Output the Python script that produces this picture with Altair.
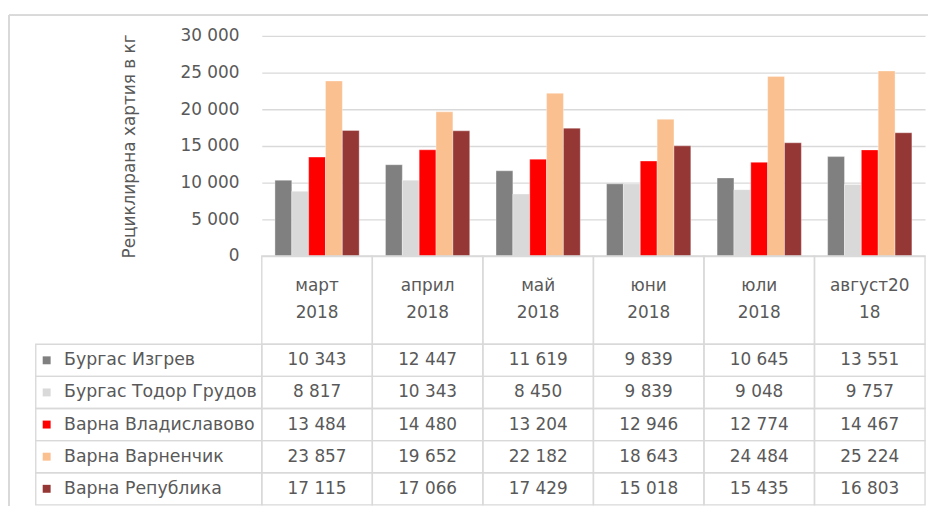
import altair as alt
import pandas as pd

months = ["март\n2018", "април\n2018", "май\n2018", "юни\n2018", "юли\n2018", "август20\n18"]
series = ["Бургас Изгрев", "Бургас Тодор Грудов", "Варна Владиславово", "Варна Варненчик", "Варна Република"]
burgas_izgrev = [10343, 12447, 11619, 9839, 10645, 13551]
burgas_todor_grudov = [8817, 10343, 8450, 9839, 9048, 9757]
varna_vladislavovo = [13484, 14480, 13204, 12946, 12774, 14467]
varna_varnenchik = [23857, 19652, 22182, 18643, 24484, 25224]
varna_republika = [17115, 17066, 17429, 15018, 15435, 16803]
colors = ["#808080", "#d9d9d9", "#ff0000", "#fac090", "#953735"]
y_ticks = [0, 5000, 10000, 15000, 20000, 25000, 30000]
y_title = "Рециклирана хартия в кг"

values = [burgas_izgrev, burgas_todor_grudov, varna_vladislavovo, varna_varnenchik, varna_republika]
rows = []
for s, vals in zip(series, values):
    for m, v in zip(months, vals):
        rows.append({"month": m, "series": s, "value": v})
df = pd.DataFrame(rows)
ser_df = pd.DataFrame({"series": series})
hdr_df = pd.DataFrame({"month": months})

FONT = "DejaVu Sans"
TXT = "#595959"
GRID = "#d9d9d9"
W = 669
fmt = "replace(format(datum.value, ','), ',', ' ')"

xscale = alt.Scale(domain=months, paddingInner=0, paddingOuter=0)
color = alt.Color("series:N", scale=alt.Scale(domain=series, range=colors), legend=None)

bars = alt.Chart(df).mark_bar(stroke="white", strokeOpacity=0.35, strokeWidth=1).encode(
    x=alt.X("month:N", scale=xscale, axis=None),
    xOffset=alt.XOffset("series:N", scale=alt.Scale(domain=series, paddingInner=0, paddingOuter=0.78)),
    y=alt.Y("value:Q", scale=alt.Scale(domain=[0, 30000]),
            axis=alt.Axis(values=y_ticks, labelExpr=fmt, title=y_title, grid=True,
                          gridColor=GRID, gridWidth=1.4, domain=False, ticks=False,
                          labelPadding=23, labelFontSize=17, labelColor=TXT, labelFont=FONT,
                          titleFont=FONT, titleFontSize=17, titleColor=TXT,
                          titleFontWeight="normal", titlePadding=42)),
    color=color,
)
# outer chart frame (left and top edges, as in the reference)
frame_left = alt.Chart(ser_df).mark_rule(color=GRID, strokeWidth=1.4).encode(
    x=alt.value(-255), y=alt.value(-21), y2=alt.value(474))
frame_top = alt.Chart(ser_df).mark_rule(color=GRID, strokeWidth=1.4).encode(
    x=alt.value(-255), x2=alt.value(W + 3), y=alt.value(-21))
top = alt.layer(bars, frame_left, frame_top).properties(width=W, height=222)

hdr_x = alt.X("month:N", scale=xscale, axis=None)
hdr_rect = alt.Chart(hdr_df).mark_rect(fillOpacity=0, stroke=GRID, strokeWidth=1.4).encode(x=hdr_x)
hdr_text = alt.Chart(hdr_df).mark_text(lineBreak="\n", lineHeight=27, font=FONT, fontSize=17,
                                       color=TXT, baseline="middle", dy=-14).encode(x=hdr_x, text="month:N")
header = alt.layer(hdr_rect, hdr_text).properties(width=W, height=89)

tbl_y = alt.Y("series:N", scale=alt.Scale(domain=series, paddingInner=0, paddingOuter=0),
              axis=alt.Axis(title=None, domain=False, ticks=False, tickSize=0, labelAlign="left",
                            labelPadding=200, labelFontSize=17.5, labelFont=FONT, labelColor=TXT,
                            labelLimit=300, zindex=1))
tbl_x = alt.X("month:N", scale=xscale, axis=None)
cells = alt.Chart(df).mark_rect(fillOpacity=0, stroke=GRID, strokeWidth=1.4).encode(x=tbl_x, y=tbl_y)
cell_text = alt.Chart(df).transform_calculate(
    label="replace(format(datum.value, ','), ',', ' ')"
).mark_text(font=FONT, fontSize=17, color=TXT, baseline="middle").encode(x=tbl_x, y=tbl_y, text="label:N")
left_cells = alt.Chart(ser_df).mark_rect(fillOpacity=0, stroke=GRID, strokeWidth=1.4).encode(
    x=alt.value(-228), x2=alt.value(0), y=tbl_y)
squares = alt.Chart(ser_df).mark_square(size=64, opacity=1).encode(
    x=alt.value(-217), y=tbl_y, color=color)
table = alt.layer(cells, left_cells, cell_text, squares).properties(width=W, height=162)

chart = alt.vconcat(top, header, table, spacing=0, bounds="flush").properties(
    padding={"left": 0, "top": 4, "right": 0, "bottom": 0}
).configure_view(stroke=None)

chart.save("out.html", embed_options={"renderer": "svg", "actions": False})
